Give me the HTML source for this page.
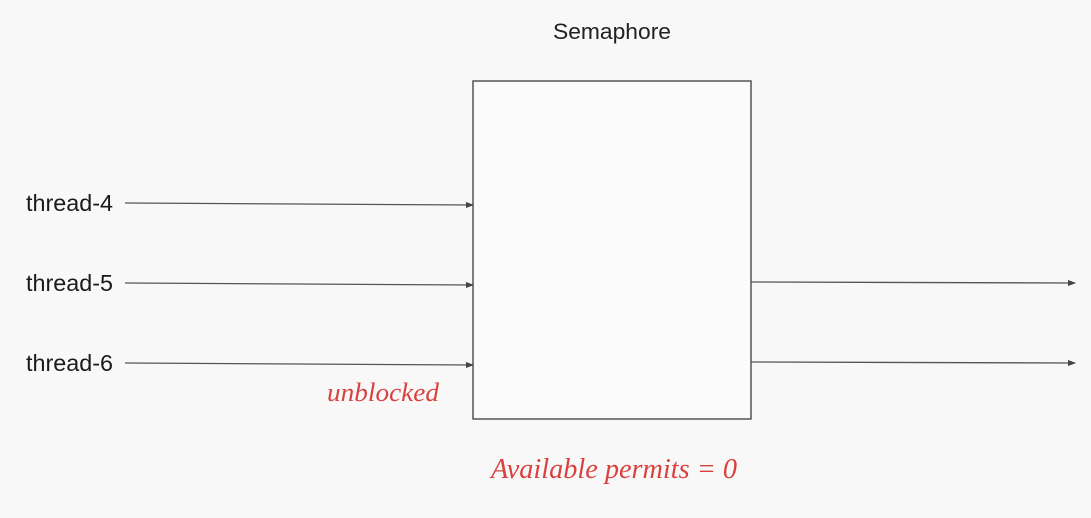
<!DOCTYPE html>
<html><head><meta charset="utf-8"><style>
html,body{margin:0;padding:0;background:#f8f8f8;}
svg{display:block;}
</style></head><body>
<svg width="1091" height="518" viewBox="0 0 1091 518" xmlns="http://www.w3.org/2000/svg">
<defs>
<marker id="a" markerWidth="8" markerHeight="8" refX="7" refY="3" orient="auto" markerUnits="userSpaceOnUse">
<path d="M0,0 L8,3 L0,6 z" fill="#444"/>
</marker>
</defs>
<rect width="1091" height="518" fill="#f8f8f8"/>
<text x="612" y="39" font-family="Liberation Sans, sans-serif" font-size="22" fill="#222" text-anchor="middle" textLength="118" lengthAdjust="spacingAndGlyphs">Semaphore</text>
<rect x="473" y="81" width="278" height="338" fill="#fbfbfb" stroke="#555" stroke-width="1.5"/>
<g font-family="Liberation Sans, sans-serif" font-size="23" fill="#1a1a1a">
<text x="26" y="211" textLength="87" lengthAdjust="spacingAndGlyphs">thread-4</text>
<text x="26" y="291" textLength="87" lengthAdjust="spacingAndGlyphs">thread-5</text>
<text x="26" y="371" textLength="87" lengthAdjust="spacingAndGlyphs">thread-6</text>
</g>
<g stroke="#555" stroke-width="1.3" marker-end="url(#a)">
<line x1="125" y1="203" x2="473" y2="205"/>
<line x1="125" y1="283" x2="473" y2="285"/>
<line x1="125" y1="363" x2="473" y2="365"/>
<line x1="751" y1="282" x2="1075" y2="283"/>
<line x1="751" y1="362" x2="1075" y2="363"/>
</g>
<text x="327" y="401" font-family="Liberation Serif, serif" font-style="italic" font-size="26" fill="#d9413f" textLength="112" lengthAdjust="spacingAndGlyphs">unblocked</text>
<text x="491" y="478" font-family="Liberation Serif, serif" font-style="italic" font-size="28" fill="#d9413f" textLength="246" lengthAdjust="spacingAndGlyphs">Available permits = 0</text>
</svg>
</body></html>
